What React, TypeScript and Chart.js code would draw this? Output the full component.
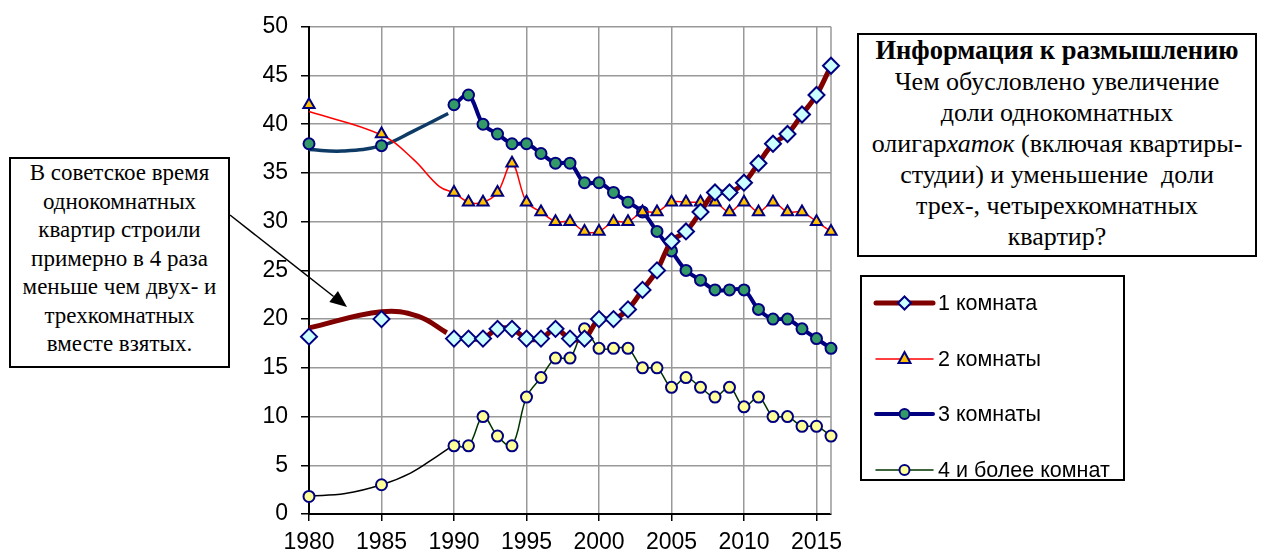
import React, { useEffect, useRef } from "react";
import { Chart, registerables } from "chart.js";

Chart.register(...registerables);

// ---------- data ----------
const years = [
  1980, 1985, 1990, 1991, 1992, 1993, 1994, 1995, 1996, 1997, 1998, 1999, 2000,
  2001, 2002, 2003, 2004, 2005, 2006, 2007, 2008, 2009, 2010, 2011, 2012, 2013,
  2014, 2015, 2016,
];
const oneRoom = [
  18.2, 20, 18, 18, 18, 19, 19, 18, 18, 19, 18, 18, 20, 20, 21, 23, 25, 28, 29,
  31, 33, 33, 34, 36, 38, 39, 41, 43, 46,
];
const twoRooms = [
  42, 39, 33, 32, 32, 33, 36, 32, 31, 30, 30, 29, 29, 30, 30, 31, 31, 32, 32,
  32, 32, 31, 32, 31, 32, 31, 31, 30, 29,
];
const threeRooms = [
  38, 37.8, 42, 43, 40, 39, 38, 38, 37, 36, 36, 34, 34, 33, 32, 31, 29, 27, 25,
  24, 23, 23, 23, 21, 20, 20, 19, 18, 17,
];
const fourPlusRooms = [
  1.8, 3, 7, 7, 10, 8, 7, 12, 14, 16, 16, 19, 17, 17, 17, 15, 15, 13, 14, 13,
  12, 13, 11, 12, 10, 10, 9, 9, 8,
];

// curves drawn over the Soviet period (1980–1990)
const oneRoomCurveYears = [1980, 1985, 1987.5, 1989.5];
const oneRoomCurve = [19.1, 20.75, 20.3, 18.6];
const twoRoomsCurveYears = [1980, 1985, 1987.2, 1989, 1990];
const twoRoomsCurve = [41.3, 38.9, 36.4, 33.6, 33];
const threeRoomsCurveYears = [1980, 1982.3, 1985, 1987.2, 1989.6];
const threeRoomsCurve = [37.4, 37.25, 37.8, 39.3, 41.1];
const fourPlusCurveYears = [1980, 1982.5, 1985, 1987, 1988.8, 1990.4];
const fourPlusCurve = [1.85, 2.1, 3.0, 4.2, 5.9, 7.5];

const xTicks = [1980, 1985, 1990, 1995, 2000, 2005, 2010, 2015];
const seriesNames = ["1 комната", "2 комнаты", "3 комнаты", "4 и более комнат"];

// ---------- styles ----------
const SANS = '"Liberation Sans", Arial, sans-serif';
const SERIF = '"Liberation Serif", "Times New Roman", serif';
const NAVY = "#000080";
const GRID = "#999999";

const seriesStyles = [
  { line: "#800000", width: 5, point: "rectRot", radius: 8, fill: "#CCFFFF", curve: "#800000", curveWidth: 5 },
  { line: "#FF0000", width: 1.5, point: "triangle", radius: 6.5, fill: "#FFC000", curve: "#FF0000", curveWidth: 1.5 },
  { line: NAVY, width: 4, point: "circle", radius: 5.5, fill: "#339966", curve: "#0D3B66", curveWidth: 3.5 },
  { line: "#003300", width: 1.5, point: "circle", radius: 5.5, fill: "#FFFF99", curve: "#000000", curveWidth: 1.5 },
];

function toPoints(xs: number[], ys: number[]) {
  const pts: { x: number; y: number | null }[] = [];
  xs.forEach((x, i) => {
    if (i > 0 && x - xs[i - 1] > 1) pts.push({ x: (x + xs[i - 1]) / 2, y: null });
    pts.push({ x, y: ys[i] });
  });
  return pts;
}
function toCurve(xs: number[], ys: number[]) {
  return xs.map((x, i) => ({ x, y: ys[i] }));
}

const frame = {
  id: "frame",
  beforeDatasetsDraw(chart: any) {
    const { ctx, chartArea: a } = chart;
    ctx.save();
    ctx.strokeStyle = GRID;
    ctx.lineWidth = 1.5;
    ctx.beginPath();
    ctx.moveTo(a.right, a.top);
    ctx.lineTo(a.right, a.bottom);
    ctx.stroke();
    ctx.restore();
  },
};

export default function App() {
  const ref = useRef<HTMLCanvasElement | null>(null);

  useEffect(() => {
    if (!ref.current) return;
    const mainValues = [oneRoom, twoRooms, threeRooms, fourPlusRooms];
    const curves = [
      [oneRoomCurveYears, oneRoomCurve],
      [twoRoomsCurveYears, twoRoomsCurve],
      [threeRoomsCurveYears, threeRoomsCurve],
      [fourPlusCurveYears, fourPlusCurve],
    ];
    const main = mainValues.map((vals, i) => {
      const s = seriesStyles[i];
      return {
        label: seriesNames[i],
        data: toPoints(years, vals),
        borderColor: s.line,
        borderWidth: s.width,
        pointStyle: s.point,
        pointRadius: s.radius,
        pointBackgroundColor: s.fill,
        pointBorderColor: NAVY,
        pointBorderWidth: 2,
        tension: 0.35,
        spanGaps: false,
        clip: false,
      };
    });
    const curveSets = curves.map(([xs, ys], i) => {
      const s = seriesStyles[i];
      return {
        label: seriesNames[i] + " (1980–1990)",
        data: toCurve(xs as number[], ys as number[]),
        borderColor: s.curve,
        borderWidth: s.curveWidth,
        pointRadius: 0,
        tension: 0.4,
        clip: false,
      };
    });

    const chart = new Chart(ref.current, {
      type: "line",
      data: { datasets: [...main, ...curveSets] as any },
      options: {
        animation: false,
        responsive: false,
        devicePixelRatio: 1,
        layout: { padding: { left: 0, right: 434, top: 25, bottom: 0 } },
        plugins: { legend: { display: false }, tooltip: { enabled: false } },
        scales: {
          x: {
            type: "linear",
            min: 1980,
            max: 2016,
            afterBuildTicks: (s: any) => {
              s.ticks = xTicks.map((v) => ({ value: v }));
            },
            afterFit: (s: any) => {
              s.height = 40;
            },
            grid: {
              color: (c: any) => (c.tick && c.tick.value === 1980 ? "rgba(0,0,0,0)" : GRID),
              lineWidth: 1.5,
              tickColor: "#000",
              tickLength: 7,
              tickWidth: 1.5,
            },
            border: { color: "#000", width: 2 },
            ticks: {
              color: "#000",
              font: { family: SANS, size: 23 },
              padding: 8,
              maxRotation: 0,
              callback: (v: any) => String(v),
            },
          },
          y: {
            min: 0,
            max: 50,
            afterFit: (s: any) => {
              s.width = 309;
            },
            grid: {
              color: (c: any) => (c.tick && c.tick.value === 0 ? "rgba(0,0,0,0)" : GRID),
              lineWidth: 1.5,
              tickColor: "#000",
              tickLength: 8,
              tickWidth: 1.5,
            },
            border: { color: "#000", width: 2 },
            ticks: {
              stepSize: 5,
              color: "#000",
              font: { family: SANS, size: 23 },
              padding: 13,
            },
          },
        },
      },
      plugins: [frame],
    });
    return () => chart.destroy();
  }, []);

  // arrow geometry
  const ax1 = 230, ay1 = 215, ax2 = 347, ay2 = 307;
  const len = Math.hypot(ax2 - ax1, ay2 - ay1);
  const ux = (ax2 - ax1) / len, uy = (ay2 - ay1) / len;
  const bx = ax2 - ux * 17, by = ay2 - uy * 17;
  const px = -uy * 7, py = ux * 7;

  const legendRows = [303, 359, 414, 470];

  const marker = (i: number, cx: number, cy: number) => {
    const s = seriesStyles[i];
    if (s.point === "rectRot")
      return <polygon points={`${cx - 6.5},${cy} ${cx},${cy - 6.5} ${cx + 6.5},${cy} ${cx},${cy + 6.5}`} fill={s.fill} stroke={NAVY} strokeWidth={2} />;
    if (s.point === "triangle")
      return <polygon points={`${cx},${cy - 7} ${cx + 6},${cy + 4} ${cx - 6},${cy + 4}`} fill={s.fill} stroke={NAVY} strokeWidth={2} />;
    return <circle cx={cx} cy={cy} r={5} fill={s.fill} stroke={NAVY} strokeWidth={2} />;
  };

  return (
    <div style={{ position: "fixed", left: 0, top: 0, width: 1265, height: 554, background: "#fff", overflow: "hidden" }}>
      <canvas ref={ref} width={1265} height={554} style={{ position: "absolute", left: 0, top: 0, width: 1265, height: 554 }} />
      <svg width={1265} height={554} style={{ position: "absolute", left: 0, top: 0, pointerEvents: "none" }}>
        <line x1={ax1} y1={ay1} x2={bx} y2={by} stroke="#000" strokeWidth={1.5} />
        <polygon points={`${ax2},${ay2} ${bx + px},${by + py} ${bx - px},${by - py}`} fill="#000" />
        {seriesStyles.map((s, i) => (
          <g key={i}>
            <line x1={876} y1={legendRows[i]} x2={933} y2={legendRows[i]} stroke={s.line} strokeWidth={s.width} strokeLinecap="round" />
            {marker(i, 904.5, legendRows[i])}
          </g>
        ))}
      </svg>

      {/* left annotation */}
      <div
        style={{
          position: "absolute", left: 9, top: 157, width: 221, height: 211, boxSizing: "border-box",
          border: "2px solid #000", background: "#fff", fontFamily: SERIF, fontSize: 23, lineHeight: "28.5px",
          textAlign: "center", color: "#000", paddingTop: 0, whiteSpace: "nowrap",
        }}
      >
        <div>В советское время</div>
        <div>однокомнатных</div>
        <div>квартир строили</div>
        <div>примерно в 4 раза</div>
        <div>меньше чем двух- и</div>
        <div>трехкомнатных</div>
        <div>вместе взятых.</div>
      </div>

      {/* right annotation */}
      <div
        style={{
          position: "absolute", left: 857, top: 33, width: 400, height: 224, boxSizing: "border-box",
          border: "2px solid #000", background: "#fff", fontFamily: SERIF, fontSize: 26, lineHeight: "31px",
          textAlign: "center", color: "#000", paddingTop: 0, whiteSpace: "nowrap",
        }}
      >
        <div style={{ fontWeight: "bold", fontSize: 26.5 }}>Информация к размышлению</div>
        <div>Чем обусловлено увеличение</div>
        <div>доли однокомнатных</div>
        <div>
          олигар<i>хаток</i> (включая квартиры-
        </div>
        <div>студии) и уменьшение&nbsp; доли</div>
        <div>трех-, четырехкомнатных</div>
        <div>квартир?</div>
      </div>

      {/* legend */}
      <div
        style={{
          position: "absolute", left: 860, top: 275, width: 265, height: 206, boxSizing: "border-box",
          border: "2px solid #000", pointerEvents: "none",
        }}
      />
      {seriesNames.map((n, i) => (
        <div
          key={n}
          style={{
            position: "absolute", left: 938, top: legendRows[i] - 12, height: 24, lineHeight: "24px",
            fontFamily: SANS, fontSize: 21.5, color: "#000", whiteSpace: "nowrap",
          }}
        >
          {n}
        </div>
      ))}
    </div>
  );
}
